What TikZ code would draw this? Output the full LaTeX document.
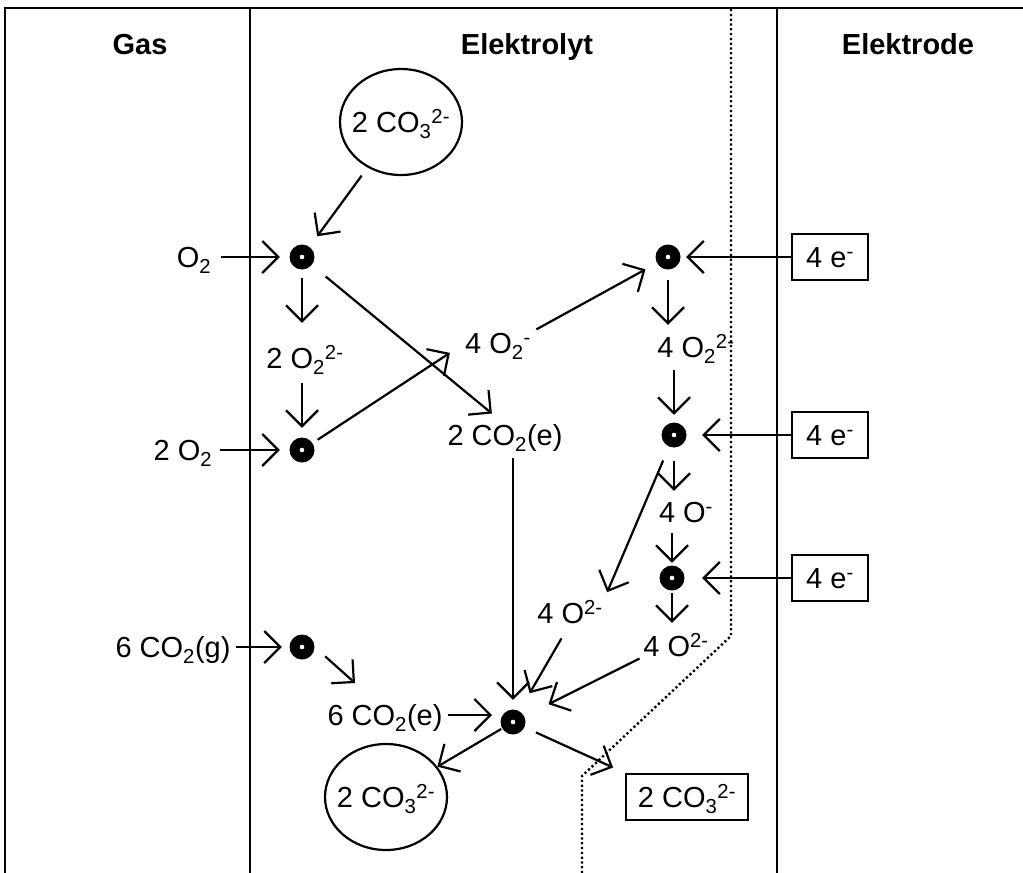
\documentclass[tikz,border=0pt]{standalone}
\usepackage{fontspec}
\setmainfont{Liberation Sans}
\usetikzlibrary{arrows.meta,shapes.geometric,calc}
\begin{document}
\begin{tikzpicture}[x=1pt,y=-1pt,
  every node/.style={font=\fontsize{29}{34}\selectfont},
  lbl/.style={inner sep=0pt, text height=21pt, text depth=0pt},
  hdr/.style={lbl, font=\fontsize{29}{34}\selectfont\bfseries},
  dot/.style={circle, fill=black, minimum size=25pt, inner sep=0pt,
    path picture={\fill[white] (path picture bounding box.center) circle (2.3pt);}},
  ebox/.style={draw, line width=2.2pt, minimum width=76pt, minimum height=46pt,
    inner sep=0pt, text height=21pt, text depth=0pt},
  ell/.style={draw, ellipse, line width=2.2pt, minimum width=122pt, minimum height=106pt,
    inner xsep=-14pt, inner ysep=0pt, text height=21pt, text depth=0pt},
  arr/.style={line width=2.2pt, -{Straight Barb[length=16pt,width=32pt]}},
  frame/.style={line width=2pt},
  sep/.style={line width=2.4pt, dash pattern=on 2.2pt off 2.6pt}
]
\useasboundingbox (0,0) rectangle (1023,873);
\fill[white] (0,0) rectangle (1023,873);

% frame and separators
\draw[frame] (5,873) -- (5,8) -- (1023,8);
\draw[frame] (250,8) -- (250,873);
\draw[frame] (777,8) -- (777,873);
\draw[sep] (731,9) -- (731,636) -- (582,776) -- (582,873);

% headers
\node[hdr] (hgas) at (140,44) {Gas};
\node[hdr] (hel) at (527,44) {Elektrolyt};
\node[hdr] (hed) at (908,44) {Elektrode};

% labels
\node[lbl] (lo2) at (194,257) {O\textsubscript{2}};
\node[lbl] (l2o2) at (183,450) {2 O\textsubscript{2}};
\node[lbl] (lco2g) at (173,647) {6 CO\textsubscript{2}(g)};
\node[lbl] (lp1) at (305,358) {2 O\textsubscript{2}\textsuperscript{2-}};
\node[lbl] (lsup) at (498,343) {4 O\textsubscript{2}\textsuperscript{-}};
\node[lbl] (lco2e1) at (505,435) {2 CO\textsubscript{2}(e)};
\node[lbl] (lp4) at (696,347) {4 O\textsubscript{2}\textsuperscript{2-}};
\node[lbl] (lom) at (686,512) {4 O\textsuperscript{-}};
\node[lbl] (lox1) at (570,613) {4 O\textsuperscript{2-}};
\node[lbl] (lox2) at (676,646) {4 O\textsuperscript{2-}};
\node[lbl] (lco2e6) at (385,715) {6 CO\textsubscript{2}(e)};

% dots
\node[dot] (d1) at (302,257) {};
\node[dot] (d2) at (302,450) {};
\node[dot] (d3) at (668,257) {};
\node[dot] (d4) at (674,435) {};
\node[dot] (d5) at (672,578) {};
\node[dot] (d6) at (302,647) {};
\node[dot] (d7) at (513,722) {};

% boxes
\node[ebox] (b1) at (830,257) {4 e\textsuperscript{-}};
\node[ebox] (b2) at (830,435) {4 e\textsuperscript{-}};
\node[ebox] (b3) at (830,578) {4 e\textsuperscript{-}};
\node[ebox, minimum width=122pt] (bbot) at (687,797) {2 CO\textsubscript{3}\textsuperscript{2-}};

% ellipses
\node[ell] (etop) at (401,122) {2 CO\textsubscript{3}\textsuperscript{2-}};
\node[ell] (ebot) at (386,797) {2 CO\textsubscript{3}\textsuperscript{2-}};

\coordinate (c6) at (355,683);

% connectors
\draw[arr, shorten <=10pt, shorten >=9.5pt] (lo2.east) -- (d1);
\draw[arr, shorten <=8pt, shorten >=9.5pt] (l2o2.east) -- (d2);
\draw[arr, shorten <=5pt, shorten >=7.5pt] (lco2g.east) -- (d6);
\draw[arr, shorten <=10pt, shorten >=13pt] (etop) -- (d1);
\draw[arr, shorten <=8.5pt, shorten >=24.5pt] (d1) -- (d1 |- lp1.north);
\draw[arr, shorten <=14.5pt, shorten >=9.5pt] (lp1.south -| d2) -- (d2);
\draw[arr, shorten <=18pt, shorten >=17pt] (d1) -- (lco2e1.north);
\draw[arr, shorten <=6pt, shorten >=18pt] (d2) -- (lsup.west);
\draw[arr, shorten <=6pt, shorten >=13pt] (lsup.north east) -- (d3);
\draw[arr, shorten >=5.5pt] (b1) -- (d3);
\draw[arr, shorten <=10.5pt, shorten >=11.5pt] (d3) -- (d3 |- lp4.north);
\draw[arr, shorten <=12.5pt, shorten >=7.5pt] (lp4.south -| d4) -- (d4);
\draw[arr, shorten >=15.5pt] (b2) -- (d4);
\draw[arr, shorten <=13.5pt, shorten >=10.5pt] (d4) -- (d4 |- lom.north);
\draw[arr, shorten <=10.5pt, shorten >=2.5pt] (lom.south -| d5) -- (d5);
\draw[arr, shorten >=17.5pt] (b3) -- (d5);
\draw[arr, shorten <=2.5pt, shorten >=12.5pt] (d5) -- (d5 |- lox2.north);
\draw[arr, shorten <=15pt, shorten >=11pt] (d4) -- (lox1.north east);
\draw[arr, shorten <=12.5pt, shorten >=9.5pt] (d7 |- lco2e1.south) -- (d7);
\draw[arr, shorten <=17pt, shorten >=20.5pt] (lox1.south) -- (d7);
\draw[arr, shorten <=4pt, shorten >=27pt] (lox2.south west) -- (d7);
\draw[arr, shorten <=14pt] (d6.east) -- (c6);
\draw[arr, shorten <=5pt, shorten >=21pt] (lco2e6.east) -- (lco2e6.east -| d7);
\draw[arr, shorten <=1pt] (d7) -- (ebot);
\draw[arr, shorten <=12.5pt, shorten >=13pt] (d7) -- (bbot.north west);
\end{tikzpicture}
\end{document}
